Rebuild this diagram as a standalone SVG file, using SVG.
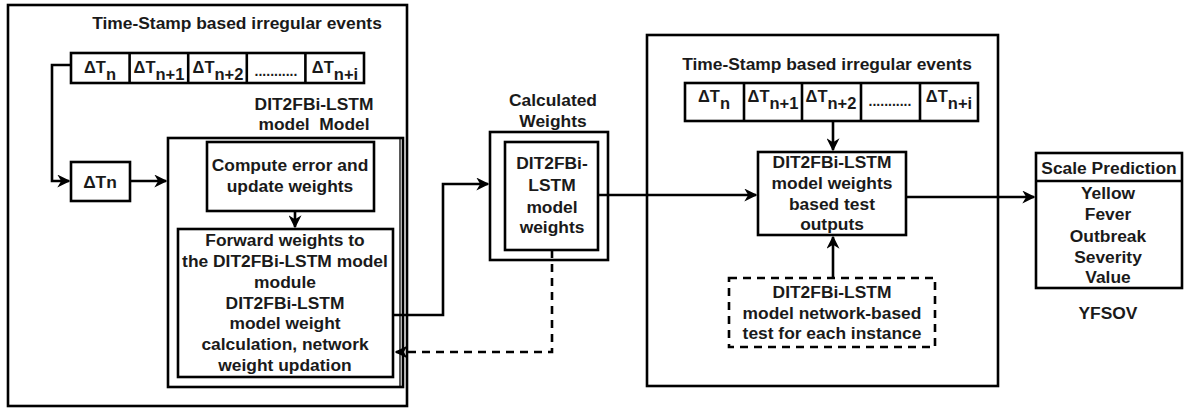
<svg xmlns="http://www.w3.org/2000/svg" width="1184" height="409" viewBox="0 0 1184 409">
<style>
.box{fill:#fff;stroke:#000;stroke-width:2.6}
.frame{fill:none;stroke:#000;stroke-width:2.6}
.dash{fill:#fff;stroke:#000;stroke-width:2.6;stroke-dasharray:8 6}
.t{font-family:"Liberation Sans",Arial,sans-serif;font-weight:bold;font-size:17.4px;fill:#1a1a1a;text-anchor:middle}
.e{font-size:16.5px}
.c{fill:none;stroke:#000;stroke-width:2.6}
.cd{fill:none;stroke:#000;stroke-width:2.6;stroke-dasharray:8 6}
</style>
<defs>
<marker id="ah" viewBox="0 0 10 10" refX="9" refY="5" markerWidth="5" markerHeight="5" orient="auto" markerUnits="strokeWidth">
<path d="M0,0 L10,5 L0,10 L3,5 Z" fill="#000"/>
</marker>
</defs>
<rect width="1184" height="409" fill="#fff"/>

<g id="left-frame">
<rect class="frame" x="8" y="5" width="399" height="401"/>
<text class="t" x="237" y="29">Time-Stamp based irregular events</text>
</g>

<g id="events-left">
<rect class="box" x="71" y="53" width="293" height="30"/>
<line class="c" x1="129.6" y1="53" x2="129.6" y2="83"/>
<line class="c" x1="188.2" y1="53" x2="188.2" y2="83"/>
<line class="c" x1="246.8" y1="53" x2="246.8" y2="83"/>
<line class="c" x1="305.4" y1="53" x2="305.4" y2="83"/>
<text class="t e" x="100" y="73">ΔT<tspan dy="7">n</tspan></text>
<text class="t e" x="159" y="73">ΔT<tspan dy="7">n+1</tspan></text>
<text class="t e" x="218" y="73">ΔT<tspan dy="7">n+2</tspan></text>
<text class="t" x="276" y="76" style="font-size:14px">...........</text>
<text class="t e" x="335" y="73">ΔT<tspan dy="7">n+i</tspan></text>
</g>

<g id="model-label">
<text class="t" x="314" y="110">DIT2FBi-LSTM</text>
<text class="t" x="314" y="130">model&#160; Model</text>
</g>

<g id="dtn">
<rect class="box" x="71" y="162" width="59" height="39"/>
<text class="t" x="100" y="188">ΔTn</text>
</g>

<g id="model-box">
<rect class="frame" x="168" y="138" width="235" height="249"/>
<line x1="400" y1="138" x2="400" y2="387" stroke="#000" stroke-width="1.3"/>
</g>

<g id="compute">
<rect class="box" x="207" y="142" width="167" height="69"/>
<text class="t" x="290" y="171">Compute error and</text>
<text class="t" x="290" y="192">update weights</text>
</g>

<g id="forward">
<rect class="box" x="178" y="229" width="215" height="148"/>
<text class="t" x="285" y="246">Forward weights to</text>
<text class="t" x="285" y="267">the DIT2FBi-LSTM model</text>
<text class="t" x="285" y="288">module</text>
<text class="t" x="285" y="309">DIT2FBi-LSTM</text>
<text class="t" x="285" y="329">model weight</text>
<text class="t" x="285" y="350">calculation, network</text>
<text class="t" x="285" y="371">weight updation</text>
</g>

<g id="calc">
<text class="t" x="553" y="106">Calculated</text>
<text class="t" x="553" y="127">Weights</text>
<rect class="box" x="490" y="132" width="118" height="128"/>
<rect class="box" x="505" y="142" width="93" height="108"/>
<text class="t" x="552" y="169">DIT2FBi-</text>
<text class="t" x="552" y="191">LSTM</text>
<text class="t" x="552" y="213">model</text>
<text class="t" x="552" y="233">weights</text>
</g>

<g id="right-frame">
<rect class="frame" x="647" y="35" width="351" height="351"/>
<text class="t" x="827" y="70">Time-Stamp based irregular events</text>
</g>

<g id="events-right">
<rect class="box" x="685" y="83" width="293" height="38"/>
<line class="c" x1="744" y1="83" x2="744" y2="121"/>
<line class="c" x1="802" y1="83" x2="802" y2="121"/>
<line class="c" x1="861" y1="83" x2="861" y2="121"/>
<line class="c" x1="920" y1="83" x2="920" y2="121"/>
<text class="t e" x="714" y="102">ΔT<tspan dy="7">n</tspan></text>
<text class="t e" x="773" y="102">ΔT<tspan dy="7">n+1</tspan></text>
<text class="t e" x="831" y="102">ΔT<tspan dy="7">n+2</tspan></text>
<text class="t" x="890" y="106" style="font-size:14px">...........</text>
<text class="t e" x="949" y="102">ΔT<tspan dy="7">n+i</tspan></text>
</g>

<g id="test">
<rect class="box" x="758" y="152" width="148" height="83"/>
<text class="t" x="832" y="168">DIT2FBi-LSTM</text>
<text class="t" x="832" y="189">model weights</text>
<text class="t" x="832" y="210">based test</text>
<text class="t" x="832" y="230">outputs</text>
</g>

<g id="network-test">
<rect class="dash" x="729" y="278" width="206" height="69"/>
<text class="t" x="832" y="298">DIT2FBi-LSTM</text>
<text class="t" x="832" y="319">model network-based</text>
<text class="t" x="832" y="339">test for each instance</text>
</g>

<g id="scale">
<rect class="box" x="1036" y="153" width="146" height="135"/>
<line class="c" x1="1036" y1="181" x2="1182" y2="181"/>
<text class="t" x="1109" y="174">Scale Prediction</text>
<text class="t" x="1108" y="199">Yellow</text>
<text class="t" x="1108" y="220">Fever</text>
<text class="t" x="1108" y="242">Outbreak</text>
<text class="t" x="1108" y="263">Severity</text>
<text class="t" x="1108" y="283">Value</text>
<text class="t" x="1108" y="319">YFSOV</text>
</g>

<g id="connectors">
<polyline class="c" points="71,65 52,65 52,181 69,181" marker-end="url(#ah)"/>
<line class="c" x1="130" y1="181" x2="166" y2="181" marker-end="url(#ah)"/>
<line class="c" x1="295" y1="211" x2="295" y2="227" marker-end="url(#ah)"/>
<polyline class="c" points="393,315 443,315 443,184 488,184" marker-end="url(#ah)"/>
<polyline class="cd" points="552,250 552,352 396,352" marker-end="url(#ah)"/>
<line class="c" x1="598" y1="195" x2="756" y2="195" marker-end="url(#ah)"/>
<line class="c" x1="833" y1="121" x2="833" y2="150" marker-end="url(#ah)"/>
<line class="c" x1="833" y1="278" x2="833" y2="237" marker-end="url(#ah)"/>
<line class="c" x1="906" y1="197" x2="1034" y2="197" marker-end="url(#ah)"/>
</g>
</svg>
